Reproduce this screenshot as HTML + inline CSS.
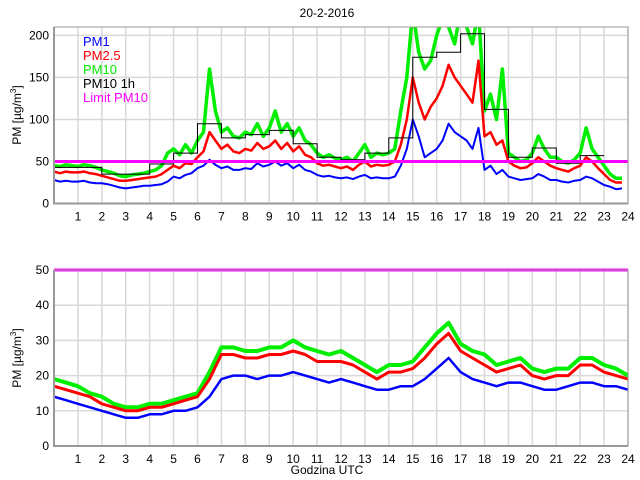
<!DOCTYPE html>
<html><head><meta charset="utf-8"><style>
body{margin:0;background:#fff;}
svg{display:block;font-family:"Liberation Sans",sans-serif;}
</style></head><body>
<svg id="chart" width="640" height="480" viewBox="0 0 640 480" xmlns="http://www.w3.org/2000/svg">
<defs>
<clipPath id="clipTop"><rect x="54" y="27" width="574" height="177"/></clipPath>
<clipPath id="clipBot"><rect x="54" y="268" width="574" height="178"/></clipPath>
</defs>
<text x="327" y="17" font-size="12" text-anchor="middle">20-2-2016</text>
<g id="top"></g>
<g id="bot"></g>
<text x="327" y="474" font-size="12" text-anchor="middle">Godzina UTC</text>
<text transform="translate(21,115) rotate(-90)" font-size="12" text-anchor="middle">PM [µg/m<tspan font-size="8" dy="-5">3</tspan><tspan dy="5">]</tspan></text>
<text transform="translate(21,358) rotate(-90)" font-size="12" text-anchor="middle">PM [µg/m<tspan font-size="8" dy="-5">3</tspan><tspan dy="5">]</tspan></text>
<g font-size="13">
<text x="83" y="46" fill="#0000ff">PM1</text>
<text x="83" y="60" fill="#ff0000">PM2.5</text>
<text x="83" y="74" fill="#00ee00">PM10</text>
<text x="83" y="88" fill="#000">PM10 1h</text>
<text x="83" y="102" fill="#ff00ff">Limit PM10</text>
</g>
</svg>
<script>
const hours = [1,2,3,4,5,6,7,8,9,10,11,12,13,14,15,16,17,18,19,20,21,22,23,24];
const topYTicks = [0,50,100,150,200];
const botYTicks = [0,10,20,30,40,50];
const limitPM10 = 50;
const topPM10 = [45,44,46,45,44,46,45,43,40,38,36,33,32,34,35,36,38,40,45,60,65,58,70,60,75,85,160,110,85,90,80,78,85,82,95,80,90,110,85,95,80,90,75,70,60,55,58,54,52,55,50,60,70,55,60,58,60,65,110,150,230,180,160,170,200,220,210,190,230,210,190,230,110,130,100,160,60,55,50,52,60,80,65,55,55,50,48,52,60,90,65,55,45,35,30,30];
const topPM25 = [38,36,38,37,37,38,36,35,33,31,29,27,27,28,29,30,31,32,35,40,45,42,48,47,55,62,85,75,65,70,62,60,65,63,72,65,68,75,65,72,62,68,58,55,48,45,46,44,42,44,40,46,50,44,46,45,46,50,70,100,150,120,100,115,125,140,165,150,140,130,120,170,80,85,70,75,50,45,42,43,48,55,50,45,42,40,38,42,45,55,50,42,35,28,25,25];
const topPM1 = [28,26,27,26,26,27,25,24,24,23,21,19,18,19,20,21,21,22,23,26,32,30,34,36,42,45,52,46,42,44,40,40,42,41,48,44,46,50,45,48,42,46,40,38,34,32,33,31,30,31,29,32,34,30,31,30,30,32,45,65,100,80,55,60,65,75,95,85,80,75,65,90,40,45,35,40,32,30,28,29,30,35,32,28,28,26,25,27,28,32,30,26,22,20,17,18];
const hourlyPM10 = [43,43,35,35,47,60,95,78,82,87,71,55,52,60,78,174,180,202,112,55,66,48,57];
const botPM10 = [19,18,17,15,14,12,11,11,12,12,13,14,15,21,28,28,27,27,28,28,30,28,27,26,27,25,23,21,23,23,24,28,32,35,29,27,26,23,24,25,22,21,22,22,25,25,23,22,20];
const botPM25 = [17,16,15,14,12,11,10,10,11,11,12,13,14,19,26,26,25,25,26,26,27,26,24,24,24,23,21,19,21,21,22,25,29,32,27,25,23,21,22,23,20,19,20,20,23,23,21,20,19];
const botPM1 = [14,13,12,11,10,9,8,8,9,9,10,10,11,14,19,20,20,19,20,20,21,20,19,18,19,18,17,16,16,17,17,19,22,25,21,19,18,17,18,18,17,16,16,17,18,18,17,17,16];

const NS = 'http://www.w3.org/2000/svg';
const X0 = 54, X1 = 628;
const xs = h => X0 + h * (X1 - X0) / 24;
function mk(tag, attrs, parent){const e=document.createElementNS(NS,tag);for(const k in attrs)e.setAttribute(k,attrs[k]);parent.appendChild(e);return e;}

function panel(g, yTop, yBot, yMax, yTicks, clip, series, stepTime, name){
  const ys = v => yBot - v * (yBot - yTop) / yMax;
  const bg = mk('rect',{x:X0,y:yTop,width:X1-X0,height:yBot-yTop,fill:'#fff'},g);
  
  
  hours.forEach(h=>{
    const l = mk('line',{x1:xs(h),x2:xs(h),y1:yTop,y2:yBot,stroke:'#d8d8d8','stroke-width':1.5},g);
    
    
    const t = mk('text',{x:xs(h),y:yBot+17,'font-size':12,'text-anchor':'middle'},g);
    t.textContent = h;
    
    
  });
  yTicks.forEach(v=>{
    if(v>0){
      const l = mk('line',{x1:X0,x2:X1,y1:ys(v),y2:ys(v),stroke:'#d8d8d8','stroke-width':1.5},g);
      
      
    }
    const t = mk('text',{x:X0-5,y:ys(v)+4,'font-size':12,'text-anchor':'end'},g);
    t.textContent = v;
    
    
  });
  const cg = mk('g',{'clip-path':'url(#'+clip+')'},g);
  series.forEach(s=>{
    const d = s.vals.map((v,i)=>(i?'L':'M')+xs(i*s.dt).toFixed(1)+','+ys(v).toFixed(1)).join('');
    const p = mk('path',{d:d,fill:'none',stroke:s.color,'stroke-width':s.w,'stroke-linejoin':'round'},cg);
    
    
  });
  if(stepTime){
    let d='';
    stepTime.forEach((v,i)=>{d+=(i?'L':'M')+xs(i).toFixed(1)+','+ys(v).toFixed(1)+'L'+xs(i+1).toFixed(1)+','+ys(v).toFixed(1);});
    const p = mk('path',{d:d,fill:'none',stroke:'#000','stroke-width':1},cg);
    
    
  }
  const lim = mk('line',{x1:X0,x2:X1,y1:ys(limitPM10),y2:ys(limitPM10),stroke:'#ff00ff','stroke-width':3},g);
  
  
  const fr = mk('path',{d:`M${X0},${yTop}L${X1},${yTop}L${X1},${yBot}L${X0},${yBot}Z`,fill:'none',stroke:'#999','stroke-width':1},g);
  
  
  const ax = mk('path',{d:`M${X0},${yTop}L${X0},${yBot}L${X1},${yBot}`,fill:'none',stroke:'#999','stroke-width':2},g);
  
  
}
panel(document.getElementById('top'),27,203.5,210,topYTicks,'clipTop',[
  {vals:topPM10,dt:0.25,color:'#00ee00',w:3.5,name:'top-pm10-line'},
  {vals:topPM25,dt:0.25,color:'#ff0000',w:2.5,name:'top-pm25-line'},
  {vals:topPM1,dt:0.25,color:'#0000ff',w:2,name:'top-pm1-line'}
],hourlyPM10,'top');
panel(document.getElementById('bot'),270,446,50,botYTicks,'clipBot',[
  {vals:botPM10,dt:0.5,color:'#00ee00',w:4,name:'bottom-pm10-line'},
  {vals:botPM25,dt:0.5,color:'#ff0000',w:3,name:'bottom-pm25-line'},
  {vals:botPM1,dt:0.5,color:'#0000ff',w:2.5,name:'bottom-pm1-line'}
],null,'bottom');
</script>
</body></html>
